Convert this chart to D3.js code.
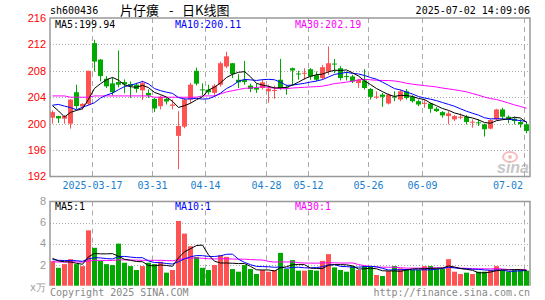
<!DOCTYPE html>
<meta charset="utf-8">
<style>
body { margin: 0; background: #fff; }
text { font-family: "DejaVu Sans Mono", monospace; font-size: 10px; }
</style>
<div id="container"></div>
<script src="https://cdn.jsdelivr.net/npm/d3@7"></script>
<script>

// daily candles, 2025-03-06 .. 2025-07-02
const open = [200.9,201.15,200.75,200.0,204.76,202.6,203.0,212.2,209.7,206.8,
  206.1,206.3,206.3,206.0,205.9,205.05,204.66,203.76,202.65,203.76,
  202.7,198.15,199.55,203.66,208.0,205.2,205.15,204.66,205.9,208.65,
  209.15,206.65,206.6,205.76,205.4,205.4,204.9,205.0,206.65,205.5,
  208.4,207.6,207.55,208.25,207.35,206.9,207.9,209.1,208.4,207.2,
  207.15,206.15,206.55,205.25,204.0,204.4,203.05,204.1,203.66,204.9,
  204.06,203.4,203.0,203.05,202.25,201.75,201.15,200.65,200.95,201.05,
  200.2,200.2,199.9,199.25,200.65,202.15,201.05,200.75,200.25,199.9];
const high = [202.0,201.2,201.3,203.7,205.9,203.1,208.0,212.7,209.8,207.2,
  207.0,211.1,206.7,206.4,206.2,206.5,205.2,203.9,204.26,203.9,
  203.65,201.9,203.9,206.2,208.5,206.1,205.9,206.0,209.4,210.9,
  209.2,207.5,209.5,206.06,206.06,206.66,205.9,205.75,209.8,205.9,
  208.5,208.0,208.4,208.4,207.9,208.9,211.7,209.8,208.7,207.9,
  207.4,206.8,208.25,205.4,204.9,204.66,204.6,204.9,205.15,205.25,
  204.3,203.65,203.65,203.2,202.5,201.9,201.9,201.3,201.55,201.3,
  200.65,200.65,200.0,200.65,202.25,202.4,201.25,201.05,200.65,200.25];
const low = [200.0,200.1,200.0,199.25,202.15,202.15,202.8,207.9,206.4,205.4,
  204.26,205.5,204.6,203.9,204.7,203.6,203.9,201.75,202.15,202.9,
  202.15,193.1,199.3,203.1,205.8,204.26,204.4,204.06,205.6,208.4,
  206.9,205.4,205.9,204.76,204.66,205.15,203.15,203.75,205.15,204.4,
  205.75,206.65,206.65,206.65,206.4,206.65,207.4,207.65,206.55,206.55,
  206.15,205.4,205.15,203.65,203.75,202.55,202.9,203.4,203.4,203.65,
  203.2,202.65,202.4,201.65,201.75,200.9,199.9,200.4,200.65,199.9,
  199.4,199.65,198.05,199.15,200.55,200.65,200.05,199.9,199.4,198.55];
const close = [201.75,200.8,201.15,203.65,202.66,203.0,208.0,209.4,207.2,205.65,
  204.76,205.9,205.95,205.7,205.25,206.15,204.26,202.3,204.06,203.36,
  202.9,199.65,203.66,205.9,206.06,205.1,204.76,205.76,209.15,210.2,
  207.5,206.25,206.3,205.26,205.16,206.26,205.3,205.1,205.4,205.4,
  208.05,207.5,207.7,207.15,206.65,208.55,209.15,209.0,206.9,207.1,
  206.4,206.65,205.4,204.06,204.1,204.06,204.4,204.0,204.9,203.9,
  203.4,202.9,203.15,202.25,201.9,201.25,201.55,201.15,201.05,200.25,
  200.3,200.1,199.15,200.55,202.15,201.05,200.75,200.4,199.9,198.9];
// volume, 万手
const vol = [2.33,1.70,2.05,2.52,2.05,1.86,5.26,3.6,2.36,2.05,
  1.96,4.0,2.18,1.86,1.49,1.86,2.18,2.05,2.27,1.24,
  1.49,6.15,4.95,3.75,2.74,1.7,1.49,1.96,2.9,2.74,
  1.58,1.33,1.96,1.58,1.11,1.49,1.33,1.49,3.12,1.58,
  2.43,1.43,1.43,1.49,1.43,2.36,3.0,1.74,1.49,1.33,
  1.86,1.49,1.86,1.80,1.02,0.92,1.40,1.86,1.64,1.58,
  1.49,1.49,1.86,1.86,1.58,1.58,2.52,1.33,1.11,1.24,
  1.11,1.33,1.33,1.49,1.86,1.49,1.33,1.49,1.49,1.43];

// the 29 sessions before the window (only felt through the moving averages)
const prevClose = [200.8,201.15,209.65,202.66,203.0,208.0,203.4,207.2,205.65,204.76,
  205.9,205.95,205.7,205.25,206.15,204.26,208.3,204.06,203.36,202.9,
  199.65,203.66,205.9,206.06,199.1,204.76,205.76,200.15,201.2];
const prevVol = [2.1,2.3,2.0,2.2,2.4,1.9,2.2,2.1,2.3,2.0,
  2.2,2.4,2.1,2.0,2.3,2.2,2.1,2.2,2.0,2.3,
  2.4,2.2,2.5,2.3,2.4,2.9,2.5,2.6,2.67];

const tickIdx = [7, 17, 26, 36, 43, 53, 62, 79];
const tickLabels = ['2025-03-17','03-31','04-14','04-28','05-12','05-26','06-09','07-02'];
const priceTicks = [216, 212, 208, 204, 200, 196, 192];
const volTicks = [8, 6, 4, 2];

const UP = '#ff5353', DOWN = '#00a800';
const maColor = { 5: '#000', 10: '#0000ff', 30: '#ff00ff' };

const svg = d3.select('#container').append('svg')
    .attr('width', 545).attr('height', 300);

const L = 50, R = 530;
const pTop = 18, pBot = 176.5, vTop = 201.5, vBot = 285.7;

const x = d3.scaleLinear().domain([0, close.length - 1]).range([52.5, 526.5]);
const y = d3.scaleLinear().domain([192, 216]).range([pBot, pTop]);
const yv = d3.scaleLinear().domain([0, 8]).range([vBot, vTop]);

function movAvg(prev, cur, n) {
  const all = prev.concat(cur), off = prev.length;
  return cur.map((d, i) => d3.mean(all.slice(i + off - n + 1, i + off + 1)));
}

const idx = d3.range(close.length);
const up = i => close[i] >= open[i];

// grid
const grid = svg.append('g');
grid.selectAll('.hp').data(priceTicks.slice(1, -1)).enter().append('line')
    .attr('x1', L).attr('x2', R).attr('y1', d => Math.round(y(d)) + 0.5).attr('y2', d => Math.round(y(d)) + 0.5)
    .attr('stroke', '#aaa').attr('stroke-dasharray', '1,2');
grid.selectAll('.hv').data(volTicks.slice(1)).enter().append('line')
    .attr('x1', L).attr('x2', R).attr('y1', d => Math.round(yv(d)) + 0.5).attr('y2', d => Math.round(yv(d)) + 0.5)
    .attr('stroke', '#aaa').attr('stroke-dasharray', '1,2');
[[pTop, pBot], [vTop, vBot]].forEach(([a, b]) => {
  grid.selectAll(null).data(tickIdx).enter().append('line')
      .attr('x1', d => Math.round(x(d)) - 2.5).attr('x2', d => Math.round(x(d)) - 2.5)
      .attr('y1', a).attr('y2', b)
      .attr('stroke', '#aaa').attr('stroke-dasharray', '5,4');
});

// watermark
const wm = svg.append('g').attr('opacity', 0.55);
wm.append('ellipse').attr('cx', 510).attr('cy', 157).attr('rx', 7).attr('ry', 5)
    .attr('fill', 'none').attr('stroke', '#f08a8a').attr('stroke-width', 2);
wm.append('circle').attr('cx', 510).attr('cy', 157).attr('r', 2).attr('fill', '#f08a8a');
wm.append('text').attr('x', 513).attr('y', 173).attr('text-anchor', 'middle')
    .style('font-family', 'Liberation Sans').style('font-size', '16px')
    .style('font-style', 'italic').style('font-weight', 'bold')
    .attr('fill', '#999').text('sina');

// candles
const cg = svg.append('g');
cg.selectAll('line').data(idx).enter().append('line')
    .attr('x1', i => x(i)).attr('x2', i => x(i))
    .attr('y1', i => y(high[i])).attr('y2', i => y(low[i]))
    .attr('stroke', i => up(i) ? UP : DOWN);
cg.selectAll('rect').data(idx).enter().append('rect')
    .attr('x', i => x(i) - 2.5).attr('width', 5)
    .attr('y', i => y(Math.max(open[i], close[i])))
    .attr('height', i => Math.max(1, Math.abs(y(open[i]) - y(close[i]))))
    .attr('fill', i => up(i) ? UP : DOWN);

// volume bars
svg.append('g').selectAll('rect').data(idx).enter().append('rect')
    .attr('x', i => x(i) - 2.5).attr('width', 5)
    .attr('y', i => yv(vol[i])).attr('height', i => vBot - yv(vol[i]))
    .attr('fill', i => up(i) ? UP : DOWN);

// moving averages
[30, 10, 5].forEach(n => {
  const mp = movAvg(prevClose, close, n), mv = movAvg(prevVol, vol, n);
  svg.append('path').attr('d', d3.line().x((d, i) => x(i)).y(d => y(d))(mp))
      .attr('fill', 'none').attr('stroke', maColor[n]).attr('stroke-width', 1);
  svg.append('path').attr('d', d3.line().x((d, i) => x(i)).y(d => yv(d))(mv))
      .attr('fill', 'none').attr('stroke', maColor[n]).attr('stroke-width', 1);
});

// frames
svg.append('rect').attr('x', L).attr('y', pTop).attr('width', R - L).attr('height', pBot - pTop)
    .attr('fill', 'none').attr('stroke', '#999').attr('stroke-width', 1.5);
svg.append('path').attr('d', `M${L},${vBot}V${vTop}H${R}V${vBot}`)
    .attr('fill', 'none').attr('stroke', '#999').attr('stroke-width', 1.5);

// y labels
svg.selectAll('.py').data(priceTicks).enter().append('text')
    .attr('x', 46).attr('y', d => y(d)).attr('dy', '0.35em').attr('text-anchor', 'end')
    .style('font-family', 'Liberation Sans').style('font-size', '11px')
    .attr('fill', '#f00').text(d => d);
svg.selectAll('.vy').data(volTicks).enter().append('text')
    .attr('x', 46).attr('y', d => yv(d)).attr('dy', '0.35em').attr('text-anchor', 'end')
    .style('font-family', 'Liberation Sans').style('font-size', '11px')
    .attr('fill', '#999').text(d => d);
svg.append('text').attr('x', 46).attr('y', 291).attr('text-anchor', 'end')
    .attr('fill', '#999').text('x万');

// x labels
svg.selectAll('.xl').data(tickIdx).enter().append('text')
    .attr('x', (d, k) => Math.min(Math.round(x(d)) - 2.5, 508))
    .attr('y', 189).attr('text-anchor', 'middle')
    .attr('fill', '#1a80d0').text((d, k) => tickLabels[k]);

// header
svg.append('text').attr('x', 50).attr('y', 14).attr('fill', '#000').text('sh600436');
const title = [[120, '片仔癀'], [169, '-'], [182, '日K线图']];
title.forEach(([tx, t]) => {
  svg.append('text').attr('x', tx).attr('y', 15).attr('fill', '#000')
      .style('font-family', 'Noto Sans CJK SC').style('font-size', '13px').text(t);
});
svg.append('text').attr('x', 530).attr('y', 14).attr('text-anchor', 'end').attr('fill', '#000')
    .text('2025-07-02 14:09:06');

// MA legends
const legend = [[55, 5, 'MA5:199.94'], [175, 10, 'MA10:200.11'], [295, 30, 'MA30:202.19']];
legend.forEach(([lx, n, t]) => {
  svg.append('text').attr('x', lx).attr('y', 28).attr('fill', maColor[n]).text(t);
  svg.append('text').attr('x', lx).attr('y', 210).attr('fill', maColor[n]).text(`MA${n}:1`);
});

// footer
svg.append('text').attr('x', 50).attr('y', 296).attr('fill', '#888').text('Copyright 2025 SINA.COM');
svg.append('text').attr('x', 530).attr('y', 296).attr('text-anchor', 'end').attr('fill', '#888')
    .text('http://finance.sina.com.cn');

</script>
